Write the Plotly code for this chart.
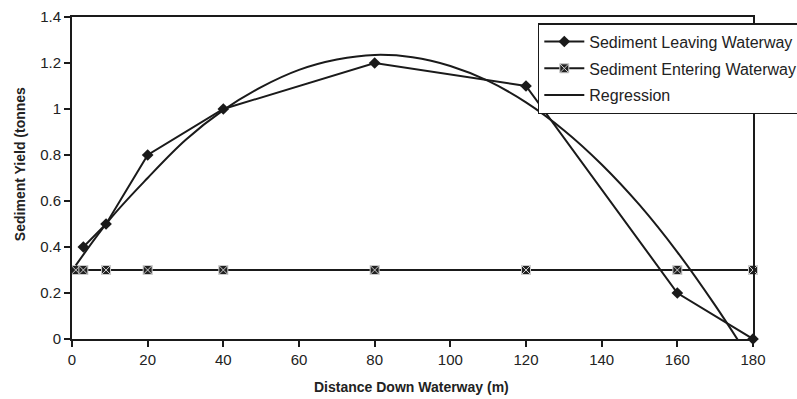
import plotly.graph_objects as go

# Data
leave_x = [3, 9, 20, 40, 80, 120, 160, 180]
leave_y = [0.4, 0.5, 0.8, 1.0, 1.2, 1.1, 0.2, 0.0]

enter_x = [1, 3, 9, 20, 40, 80, 120, 160, 180]
enter_y = [0.3, 0.3, 0.3, 0.3, 0.3, 0.3, 0.3, 0.3, 0.3]

reg_x = [1, 10, 20, 30, 40, 50, 60, 70, 80, 90, 100, 110, 120, 130, 140, 150, 160, 170, 177]
reg_y = [0.32, 0.52, 0.70, 0.865, 0.995, 1.095, 1.17, 1.215, 1.235, 1.225, 1.187, 1.122,
         1.029, 0.908, 0.759, 0.583, 0.378, 0.146, -0.03]

x_ticks = [0, 20, 40, 60, 80, 100, 120, 140, 160, 180]
y_ticks = [0, 0.2, 0.4, 0.6, 0.8, 1, 1.2, 1.4]
y_tick_text = ["0", "0.2", "0.4", "0.6", "0.8", "1", "1.2", "1.4"]

LINE = "#1a1a1a"
FONT = "Liberation Sans, Arial, sans-serif"

fig = go.Figure()
fig.add_trace(go.Scatter(
    x=leave_x, y=leave_y, mode="lines+markers", name="Sediment Leaving Waterway",
    legendgroup="a",
    line=dict(color=LINE, width=2),
    marker=dict(symbol="diamond", size=9, color=LINE),
    cliponaxis=False))
fig.add_trace(go.Scatter(
    x=enter_x, y=enter_y, mode="lines+markers", name="Sediment Entering Waterway",
    legendgroup="b",
    line=dict(color=LINE, width=2),
    marker=dict(symbol="square-x", size=9, color="#222222",
                line=dict(color="#cccccc", width=1)),
    cliponaxis=False))
fig.add_trace(go.Scatter(
    x=reg_x, y=reg_y, mode="lines", name="Regression",
    legendgroup="c",
    line=dict(color=LINE, width=2, shape="spline")))

fig.update_layout(
    width=797, height=399,
    margin=dict(l=72, r=44, t=17, b=60, autoexpand=False),
    paper_bgcolor="white", plot_bgcolor="white",
    font=dict(family=FONT, size=15, color="#222222"),
    showlegend=True,
    legend=dict(x=0.684, y=0.981, xanchor="left", yanchor="top",
                bgcolor="white", bordercolor=LINE, borderwidth=1.5,
                font=dict(size=16, family=FONT, color="#222222"),
                tracegroupgap=3, itemwidth=40),
    xaxis=dict(range=[0, 180], tickvals=x_ticks, showgrid=False, zeroline=False,
               showline=True, linecolor=LINE, linewidth=2, mirror=True,
               ticks="outside", ticklen=6, tickcolor=LINE, tickwidth=1.5,
               tickfont=dict(size=15)),
    yaxis=dict(range=[0, 1.4], tickvals=y_ticks, ticktext=y_tick_text,
               showgrid=False, zeroline=False,
               showline=True, linecolor=LINE, linewidth=2, mirror=True,
               ticks="outside", ticklen=6, tickcolor=LINE, tickwidth=1.5,
               tickfont=dict(size=15)),
    annotations=[
        dict(text="<b>Distance Down Waterway (m)</b>", xref="paper", yref="paper",
             x=0.498, y=-0.149, xanchor="center", yanchor="middle", showarrow=False,
             font=dict(size=14, family=FONT, color="#222222")),
        dict(text="<b>Sediment Yield (tonnes</b>", xref="paper", yref="paper",
             x=-0.0764, y=0.543, xanchor="center", yanchor="middle", showarrow=False,
             textangle=-90, font=dict(size=14, family=FONT, color="#222222")),
    ],
)

fig.write_html("out.html")
